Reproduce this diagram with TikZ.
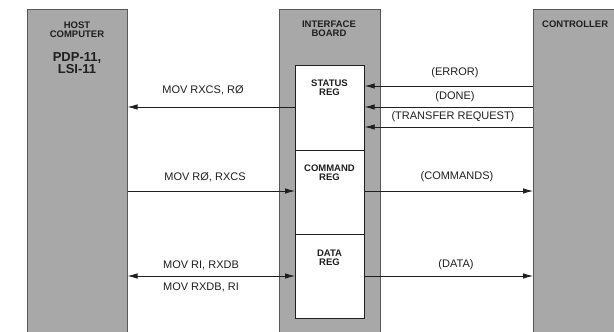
\documentclass[tikz,border=0pt]{standalone}
\usepackage{fontspec}
\setmainfont{Liberation Sans}
\usetikzlibrary{arrows.meta}
\definecolor{boxgray}{gray}{0.66}
\definecolor{edgegray}{gray}{0.35}
\definecolor{ink}{gray}{0.12}
\tikzset{
  graybox/.style={draw=edgegray, line width=0.6pt, fill=boxgray, inner sep=0pt, anchor=north west},
  regbox/.style={draw=ink, line width=0.7pt, fill=white, inner sep=0pt, anchor=north west},
  head/.style={font=\bfseries\fontsize{9.5}{11}\selectfont, text=ink, align=center, inner sep=0pt},
  big/.style={font=\bfseries\fontsize{13}{14}\selectfont, text=ink, align=center, inner sep=0pt},
  lbl/.style={font=\fontsize{11}{12}\selectfont, text=ink, inner sep=0pt},
  arr/.style={draw=ink, line width=0.8pt, -{Latex[length=10pt,width=5.5pt]}},
  darr/.style={draw=ink, line width=0.8pt, {Latex[length=10pt,width=5.5pt]}-{Latex[length=10pt,width=5.5pt]}}
}
\begin{document}
\begin{tikzpicture}[x=1pt,y=-1pt]
\useasboundingbox (0,0) rectangle (614,332);
\fill[white] (0,0) rectangle (614,332);
% boxes
\node[graybox, minimum width=100pt, minimum height=326pt] (host) at (27,9) {};
\node[graybox, minimum width=101pt, minimum height=326pt] (iface) at (279,9) {};
\node[graybox, minimum width=90pt, minimum height=326pt] (ctrl) at (533,9) {};
\node[regbox, minimum width=69pt, minimum height=85pt] (status) at (295,65) {};
\node[regbox, minimum width=69pt, minimum height=84pt] (command) at (295,150) {};
\node[regbox, minimum width=69pt, minimum height=84pt] (data) at (295,234) {};
% headings
\node[head] (hosthead) at (77,30) {HOST\\[-2pt]COMPUTER};
\node[big] (pdp) at (77,63) {PDP-11,\\[-2pt]LSI-11};
\node[head] (ifhead) at (329,29) {INTERFACE\\[-2pt]BOARD};
\node[head, anchor=west] (ctrlhead) at (542,24) {CONTROLLER};
\node[head] (sthead) at (329.5,87.5) {STATUS\\[-2pt]REG};
\node[head] (cmhead) at (329.5,172.5) {COMMAND\\[-2pt]REG};
\node[head] (dthead) at (329.5,257.5) {DATA\\[-2pt]REG};
% host <-> interface
\draw[arr] (status.west |- 0,107) -- (host.east |- 0,107);
\node[lbl] (l1) at (203,90) {MOV RXCS, RØ};
\draw[arr] (host.east |- 0,191) -- (command.west |- 0,191);
\node[lbl] (l2) at (205,177) {MOV RØ, RXCS};
\draw[darr] (host.east |- 0,276) -- (data.west |- 0,276);
\node[lbl] (l3) at (201,265) {MOV RI, RXDB};
\node[lbl] (l4) at (201,287) {MOV RXDB, RI};
% controller <-> interface
\draw[arr] (ctrl.west |- 0,86) -- (status.east |- 0,86);
\node[lbl] (l5) at (455,73) {(ERROR)};
\draw[arr] (ctrl.west |- 0,107) -- (status.east |- 0,107);
\node[lbl] (l6) at (455,97) {(DONE)};
\draw[arr] (ctrl.west |- 0,127) -- (status.east |- 0,127);
\node[lbl] (l7) at (453,117) {(TRANSFER REQUEST)};
\draw[arr] (command.east |- 0,191) -- (ctrl.west |- 0,191);
\node[lbl] (l8) at (457,177) {(COMMANDS)};
\draw[arr] (data.east |- 0,276) -- (ctrl.west |- 0,276);
\node[lbl] (l9) at (456,265) {(DATA)};
\end{tikzpicture}
\end{document}
